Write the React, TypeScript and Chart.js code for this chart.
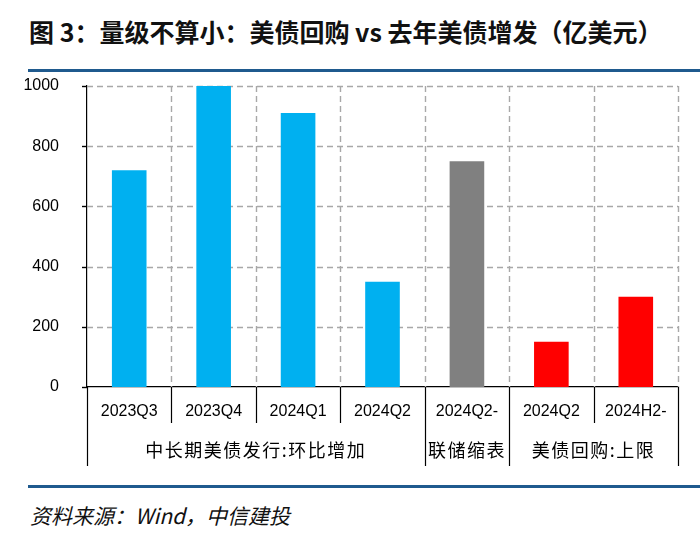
import React, { useEffect, useRef } from "react";
import { Chart, registerables } from "chart.js";

Chart.register(...registerables);

const categories = ["2023Q3", "2023Q4", "2024Q1", "2024Q2", "2024Q2-", "2024Q2", "2024H2-"];
const values = [720, 1000, 910, 350, 750, 150, 300];
const barColors = ["#00B0F0", "#00B0F0", "#00B0F0", "#00B0F0", "#808080", "#FF0000", "#FF0000"];
const groupLabels = ["中长期美债发行:环比增加", "联储缩表", "美债回购:上限"];
const groupStarts = [0, 4, 5];
const groupEnds = [3, 4, 6];
const yMin = 0;
const yMax = 1000;
const yStep = 200;

const boundaryOf = (x: any, i: number) => {
  const n = categories.length;
  if (i <= 0) return x.left;
  if (i >= n) return x.right;
  return (x.getPixelForValue(i - 1) + x.getPixelForValue(i)) / 2;
};

const gridPlugin = {
  id: "dashedGrid",
  beforeDatasetsDraw(chart: any) {
    const x = chart.scales.x;
    const y = chart.scales.y;
    const ctx = chart.ctx;
    const area = chart.chartArea;
    const tickValues: number[] = [];
    for (let v = yMin; v <= yMax; v += yStep) tickValues.push(v);
    ctx.save();
    ctx.strokeStyle = "#A8A8A8";
    ctx.lineWidth = 1.4;
    ctx.setLineDash([6, 4]);
    tickValues.forEach((v) => {
      if (v === yMin) return;
      const py = Math.round(y.getPixelForValue(v)) + 0.5;
      ctx.beginPath();
      ctx.moveTo(area.left, py);
      ctx.lineTo(area.right, py);
      ctx.stroke();
    });
    for (let i = 1; i <= categories.length; i++) {
      const px = Math.round(boundaryOf(x, i)) + 0.5;
      ctx.beginPath();
      ctx.moveTo(px, area.top);
      ctx.lineTo(px, area.bottom);
      ctx.stroke();
    }
    ctx.setLineDash([]);
    ctx.strokeStyle = "#000";
    ctx.lineWidth = 1.4;
    tickValues.forEach((v) => {
      const py = Math.round(y.getPixelForValue(v)) + 0.5;
      ctx.beginPath();
      ctx.moveTo(area.left - 5, py);
      ctx.lineTo(area.left, py);
      ctx.stroke();
    });
    ctx.restore();
  },
};

const labelPlugin = {
  id: "twoLevelLabels",
  afterDraw(chart: any) {
    const x = chart.scales.x;
    const ctx = chart.ctx;
    const base = x.top;
    const n = categories.length;
    ctx.save();
    ctx.setLineDash([]);
    ctx.strokeStyle = "#000";
    ctx.lineWidth = 1.2;
    for (let i = 1; i < n; i++) {
      if (groupStarts.includes(i)) continue;
      const px = Math.round(boundaryOf(x, i)) + 0.5;
      ctx.beginPath();
      ctx.moveTo(px, base);
      ctx.lineTo(px, base + 36);
      ctx.stroke();
    }
    const longs = new Set<number>([...groupStarts, groupEnds[groupEnds.length - 1] + 1]);
    longs.forEach((i) => {
      const px = Math.round(boundaryOf(x, i)) + 0.5;
      ctx.beginPath();
      ctx.moveTo(px, base);
      ctx.lineTo(px, base + 79);
      ctx.stroke();
    });
    ctx.fillStyle = "#000";
    ctx.textAlign = "center";
    ctx.textBaseline = "middle";
    ctx.font = '16px "Liberation Sans", Arial, sans-serif';
    categories.forEach((c, i) => {
      ctx.fillText(c, x.getPixelForValue(i), base + 25);
    });
    ctx.font = '18px "Noto Sans CJK SC", sans-serif';
    try { (ctx as any).letterSpacing = "1.5px"; } catch (e) {}
    groupLabels.forEach((g, k) => {
      const cx = (boundaryOf(x, groupStarts[k]) + boundaryOf(x, groupEnds[k] + 1)) / 2;
      ctx.fillText(g, cx, base + 63);
    });
    ctx.restore();
  },
};

export default function App() {
  const ref = useRef<HTMLCanvasElement | null>(null);
  useEffect(() => {
    document.body.style.margin = "0";
    if (!ref.current) return;
    const chart = new Chart(ref.current, {
      type: "bar",
      data: {
        labels: categories,
        datasets: [
          {
            data: values,
            backgroundColor: barColors,
            borderWidth: 0,
            barPercentage: 0.41,
            categoryPercentage: 1,
          },
        ],
      },
      options: {
        animation: false,
        responsive: false,
        devicePixelRatio: 1,
        layout: { padding: { top: 11, right: 22, left: 0, bottom: 0 } },
        plugins: { legend: { display: false }, tooltip: { enabled: false }, title: { display: false } },
        scales: {
          x: {
            ticks: { display: false },
            grid: { display: false, offset: true },
            border: { display: true, color: "#000", width: 1.2 },
            afterFit: (s: any) => {
              s.height = 88;
              s.paddingLeft = 0;
              s.paddingRight = 0;
            },
          },
          y: {
            min: yMin,
            max: yMax,
            ticks: {
              stepSize: yStep,
              color: "#000",
              font: { family: '"Liberation Sans", Arial, sans-serif', size: 16 },
              padding: 20,
              callback: (v: any) => String(v),
            },
            grid: { display: false },
            border: { display: true, color: "#000", width: 1.2 },
            afterFit: (s: any) => {
              s.width = 87;
              s.paddingTop = 0;
              s.paddingBottom = 0;
            },
          },
        },
      },
      plugins: [gridPlugin, labelPlugin],
    });
    return () => chart.destroy();
  }, []);

  return (
    <div style={{ position: "relative", width: 700, height: 543, background: "#fff", overflow: "hidden" }}>
      <div
        style={{
          position: "absolute",
          left: 29,
          top: 15,
          fontFamily: '"Noto Sans CJK SC", sans-serif',
          fontWeight: 700,
          fontSize: 25,
          lineHeight: "32px",
          color: "#111",
          whiteSpace: "nowrap",
        }}
      >
        图 3：量级不算小：美债回购 vs 去年美债增发（亿美元）
      </div>
      <div style={{ position: "absolute", left: 28, top: 69, width: 672, height: 3, background: "#1F5A8E" }} />
      <canvas ref={ref} width={700} height={400} style={{ position: "absolute", left: 0, top: 75 }} />
      <div style={{ position: "absolute", left: 28, top: 485, width: 672, height: 3, background: "#1F5A8E" }} />
      <div
        style={{
          position: "absolute",
          left: 30,
          top: 501,
          fontFamily: '"Noto Sans CJK SC", sans-serif',
          fontStyle: "italic",
          fontSize: 21,
          lineHeight: "28px",
          color: "#111",
          whiteSpace: "nowrap",
        }}
      >
        资料来源：Wind，中信建投
      </div>
    </div>
  );
}
